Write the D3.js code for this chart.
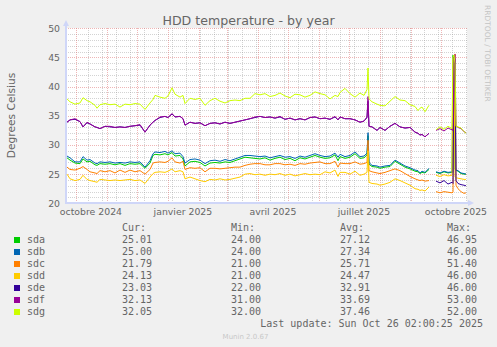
<!DOCTYPE html>
<html><head><meta charset="utf-8">
<script src="https://cdn.jsdelivr.net/npm/d3@7"></script>
<style>
html,body{margin:0;padding:0;background:#f0f0f0;}
svg{display:block;}
text{font-family:"DejaVu Sans",sans-serif;fill:#666;}
text.mono{font-family:"DejaVu Sans Mono",monospace;}
</style></head><body>
<svg id="chart" width="497" height="347"></svg>
<script>
const seriesNames = ["sda","sdb","sdc","sdd","sde","sdf","sdg"];
const seriesColors = ["#00CC00","#0066B3","#FF8000","#FFCC00","#330099","#990099","#CCFF00"];
// days since 2024-09-21 02:00
const dayOffsets = [1,4,9,14,17,21,24,29,31,34,
 39,44,49,54,59,64,69,74,79,84,
 87,89,94,99,102,106,109,114,117,119,
 124,129,134,139,144,149,154,159,164,169,
 174,179,184,189,194,199,204,209,214,219,
 224,229,234,239,244,249,254,259,264,269,
 272,274,279,284,289,294,298,301,302,303,
 306,311,314,319,324,329,334,339,344,349,
 352,354,356,359,363,366,370,374,378,382,
 386,387,388,389,390,392,395,398,400];
const sda = [27.8,27.4,26.9,26.8,27.6,27.1,27.2,26.6,26.5,26.8,
 26.7,26.8,26.6,26.8,26.5,26.8,26.7,26.8,26.0,26.9,
 28.2,28.4,28.3,28.5,28.3,28.7,28.1,28.2,27.6,26.4,
 27.1,27.2,27.0,26.4,26.9,27.0,26.9,27.1,27.0,27.3,
 27.6,27.9,27.8,27.7,27.6,27.8,27.4,27.7,27.9,27.5,
 27.7,27.3,27.8,27.6,27.9,28.2,27.9,27.7,27.8,28.3,
 27.3,28.0,27.7,27.9,28.5,27.7,27.8,28.3,31.6,26.7,
 26.3,26.2,26.0,26.2,26.3,27.2,26.7,26.2,25.9,25.5,
 25.4,25.1,25.3,25.2,25.8,null,25.3,25.1,25.4,25.2,
 25.3,45.4,44.2,25.8,25.7,25.5,25.1,25.0,25.0];
const sdb = [28.1,27.8,27.1,27.1,28.0,27.4,27.5,26.9,26.8,27.1,
 27.0,27.1,26.9,27.0,26.9,27.1,27.0,27.1,26.2,27.3,
 28.5,28.8,28.7,28.9,28.6,29.0,28.5,28.6,28.0,26.9,
 27.5,27.6,27.4,26.8,27.3,27.4,27.2,27.5,27.3,27.6,
 27.9,28.2,28.2,28.1,28.0,28.1,27.8,28.0,28.2,27.9,
 28.0,27.7,28.1,27.9,28.2,28.5,28.2,28.0,28.1,28.6,
 27.9,28.4,28.0,28.2,28.8,28.0,28.1,28.6,32.1,27.0,
 26.5,26.4,26.2,26.4,26.5,27.4,26.9,26.4,26.1,25.7,
 25.6,25.2,25.5,25.3,26.0,null,25.4,25.2,25.5,25.3,
 25.4,25.3,45.0,44.0,25.7,25.6,25.2,25.1,25.0];
const sdc = [26.2,25.8,25.7,26.0,26.3,25.8,25.4,25.2,25.1,25.6,
 25.4,25.6,25.2,25.7,25.3,25.7,25.4,25.6,25.0,25.8,
 26.9,27.0,27.1,27.0,27.2,27.8,27.1,26.9,27.2,25.8,
 26.1,26.0,26.1,25.4,26.0,26.0,25.9,26.0,26.1,26.2,
 26.2,26.5,26.7,26.8,26.8,26.6,26.6,26.8,26.8,26.6,
 26.7,26.5,26.8,26.7,26.9,27.0,27.1,26.8,26.8,27.2,
 26.2,26.9,26.8,26.8,27.1,26.7,26.8,27.0,30.8,25.6,
 25.4,25.2,25.1,25.3,25.6,25.9,25.6,25.1,24.6,24.2,
 24.0,23.9,24.0,23.8,23.9,null,22.0,21.8,22.0,21.9,
 21.8,21.9,44.0,45.6,23.1,22.5,22.0,21.7,21.8];
const sdd = [25.0,24.2,23.9,24.1,24.8,24.1,23.9,23.7,23.6,24.1,
 24.0,23.9,24.0,23.9,24.0,24.1,23.9,24.0,23.4,24.5,
 25.1,25.3,25.4,25.3,25.5,25.9,25.4,25.6,25.4,24.2,
 24.5,24.2,23.9,23.7,24.1,24.0,24.2,24.0,24.1,24.3,
 24.5,25.0,25.1,24.9,25.0,24.8,25.0,24.9,25.1,24.8,
 25.0,24.7,24.9,25.1,24.9,25.0,24.9,25.4,25.2,25.7,
 24.6,25.3,25.3,25.0,25.5,24.8,25.0,25.3,29.0,23.6,
 23.4,23.3,23.1,23.3,23.6,24.2,23.9,23.5,23.1,22.5,
 22.4,22.2,22.3,22.1,22.8,null,24.8,24.6,24.9,24.7,
 24.8,44.5,45.0,24.5,24.4,24.3,24.2,24.1,24.1];
const sde = [33.9,34.3,34.4,34.0,33.1,33.8,33.6,33.1,33.0,32.8,
 33.2,33.1,33.0,33.1,33.0,33.2,33.3,33.4,32.2,33.4,
 33.9,34.2,34.7,34.9,34.7,35.3,34.8,34.9,34.5,33.4,
 33.9,33.7,33.8,33.3,33.7,33.8,33.6,33.9,33.7,33.9,
 34.1,34.3,34.5,34.7,34.9,34.7,34.8,34.6,34.8,34.4,
 34.6,34.3,34.5,34.3,34.7,34.8,34.5,34.6,34.4,34.8,
 34.3,34.8,34.5,34.5,34.3,33.9,34.1,34.7,37.5,33.2,
 33.1,32.5,33.0,32.5,33.2,33.7,33.1,32.9,33.0,32.2,
 32.0,31.7,31.8,31.4,32.0,null,23.8,23.5,23.9,23.3,
 23.6,23.4,45.2,44.6,23.9,23.4,23.2,23.1,23.0];
const sdf = [33.9,34.3,34.5,34.0,33.1,33.9,33.6,33.1,33.0,32.8,
 33.2,33.2,33.0,33.1,33.0,33.2,33.3,33.5,32.2,33.4,
 33.9,34.2,34.8,34.9,34.7,35.4,34.8,34.9,34.5,33.4,
 33.9,33.7,33.8,33.3,33.7,33.8,33.6,33.9,33.7,33.9,
 34.1,34.3,34.5,34.8,34.9,34.7,34.8,34.6,34.9,34.4,
 34.6,34.3,34.5,34.3,34.7,34.8,34.5,34.6,34.4,34.9,
 34.3,34.8,34.5,34.5,34.3,33.9,34.1,34.8,38.3,33.2,
 33.1,32.5,33.0,32.5,33.2,33.7,33.1,32.9,33.0,32.2,
 32.0,31.7,31.8,31.4,32.0,null,32.5,32.8,32.4,32.9,
 32.6,32.5,44.8,45.5,33.3,33.0,32.8,32.3,32.1];
const sdg = [37.9,37.4,37.0,37.2,38.1,37.6,37.4,36.8,36.3,36.9,
 37.1,36.9,37.0,36.5,37.0,36.9,37.1,37.0,36.1,37.2,
 37.8,38.5,38.2,38.0,38.4,39.8,38.7,38.2,38.5,37.1,
 38.0,37.8,38.0,36.8,37.6,38.0,37.5,37.2,37.6,37.7,
 37.6,38.0,38.0,38.8,38.6,38.8,38.3,38.5,38.9,38.4,
 38.1,38.7,38.6,38.2,38.5,39.1,38.8,38.6,37.9,38.5,
 38.3,39.0,39.7,38.8,38.2,38.9,38.5,39.5,43.2,37.9,
 37.4,37.0,36.8,36.7,37.5,38.3,37.7,37.6,36.9,36.6,
 35.9,36.3,36.5,35.7,36.8,null,32.6,33.1,32.7,33.2,
 32.8,45.0,45.4,44.0,33.2,33.1,32.9,32.3,32.0];
const curValues = ["25.01","25.00","21.79","24.13","23.03","32.13","32.05"];
const minValues = ["24.00","24.00","21.00","21.00","22.00","31.00","32.00"];
const avgValues = ["27.12","27.34","25.71","24.47","32.91","33.69","37.46"];
const maxValues = ["46.95","46.00","51.40","46.00","46.00","53.00","52.00"];
const xTickDates = ["2024-10-01","2025-01-01","2025-04-01","2025-07-01","2025-10-01"];
const xTickLabels = ["octobre 2024","janvier 2025","avril 2025","juillet 2025","octobre 2025"];
const yTicks = [20,25,30,35,40,45,50];
const titleText = "HDD temperature - by year";
const yAxisTitle = "Degrees Celsius";
const lastUpdate = "Last update: Sun Oct 26 02:00:25 2025";

const seriesValues = [sda,sdb,sdc,sdd,sde,sdf,sdg];

const svg = d3.select("#chart");
const start = new Date(2024,8,21,2,0,0);
const end = new Date(2025,9,26,2,0,0);
const x = d3.scaleTime().domain([start,end]).range([66,466]);
const y = d3.scaleLinear().domain([20,50]).range([203.3,28.3]);
const L = 66, R = 467, T = 28, B = 203;

svg.append("rect").attr("width",497).attr("height",347).attr("fill","#f0f0f0");
svg.append("rect").attr("x",L).attr("y",T).attr("width",R-L).attr("height",B-T+1).attr("fill","#fff");

const grid = svg.append("g").attr("shape-rendering","crispEdges");
const minorCol = "rgba(150,150,150,0.42)", majorCol = "rgba(222,110,110,0.5)";
d3.range(21,50).filter(v=>v%5!==0).forEach(v=>{
  const yy = Math.round(y(v))+0.5;
  grid.append("line").attr("x1",L).attr("x2",R).attr("y1",yy).attr("y2",yy)
    .attr("stroke",minorCol).attr("stroke-dasharray","1,1");
});
d3.timeDay.range(new Date(2024,9,13), end, 14).forEach(d=>{
  const xx = Math.round(x(d))+0.5;
  grid.append("line").attr("x1",xx).attr("x2",xx).attr("y1",T).attr("y2",B)
    .attr("stroke",minorCol).attr("stroke-dasharray","1,1");
});
yTicks.forEach(v=>{
  const yy = Math.round(y(v))+0.5;
  grid.append("line").attr("x1",L).attr("x2",R).attr("y1",yy).attr("y2",yy)
    .attr("stroke",majorCol).attr("stroke-dasharray","1,1");
});
d3.timeMonth.range(start,end).forEach(d=>{
  const xx = Math.round(x(d))+0.5;
  grid.append("line").attr("x1",xx).attr("x2",xx).attr("y1",T).attr("y2",B)
    .attr("stroke",majorCol).attr("stroke-dasharray","1,1");
});

const axisCol = "#CFD6F8";
svg.append("line").attr("x1",L).attr("x2",L).attr("y1",B+1).attr("y2",24).attr("stroke",axisCol).attr("stroke-width",2);
svg.append("path").attr("d",`M${L-3},26 L${L+3},26 L${L},20 Z`).attr("fill",axisCol);
svg.append("line").attr("x1",L-1).attr("x2",470).attr("y1",B).attr("y2",B).attr("stroke",axisCol).attr("stroke-width",2);
svg.append("path").attr("d",`M468,${B-3} L468,${B+3} L474,${B} Z`).attr("fill",axisCol);

svg.append("g").selectAll("text").data(yTicks).join("text")
  .attr("x",60).attr("y",v=>y(v)+3.4).attr("text-anchor","end")
  .attr("font-size","9.33px").text(v=>v);

svg.append("g").selectAll("text").data(xTickDates).join("text")
  .attr("x",(d)=>x(d3.timeDay.offset(new Date(d+"T00:00:00"),15)))
  .attr("y",215).attr("text-anchor","middle").attr("font-size","9.33px")
  .text((d,i)=>xTickLabels[i]);

const line = d3.line().defined(d=>d.v!=null).x(d=>x(d.t)).y(d=>y(d.v));
seriesValues.forEach((vals,i)=>{
  const pts = dayOffsets.map((o,j)=>({t:new Date(start.getTime()+o*86400000), v:vals[j]}));
  svg.append("path").datum(pts).attr("d",line).attr("fill","none")
    .attr("stroke",seriesColors[i]).attr("stroke-width",1);
});

svg.append("text").attr("x",248.5).attr("y",24.5).attr("text-anchor","middle")
  .attr("font-size","12.6px").text(titleText);
svg.append("text").attr("transform","translate(15,115.5) rotate(-90)").attr("text-anchor","middle")
  .attr("font-size","10.67px").text(yAxisTitle);
svg.append("text").attr("transform","translate(485,5) rotate(90)")
  .attr("font-size","7.5px").style("fill","#c4c4c4").text("RRDTOOL / TOBI OETIKER");
svg.append("text").attr("x",245.5).attr("y",339).attr("text-anchor","middle")
  .attr("font-size","7px").style("fill","#c8c8c8").text("Munin 2.0.67");

const cols = [122,231,340,447];
["Cur:","Min:","Avg:","Max:"].forEach((h,i)=>{
  svg.append("text").attr("class","mono").attr("x",cols[i]).attr("y",231).attr("font-size","10px").text(h);
});
const leg = svg.append("g");
seriesNames.forEach((n,i)=>{
  const by = 243 + 12*i;
  leg.append("rect").attr("x",14).attr("y",by-6).attr("width",6).attr("height",6).attr("fill",seriesColors[i]);
  leg.append("text").attr("class","mono").attr("x",27).attr("y",by).attr("font-size","10px").text(n);
  [curValues,minValues,avgValues,maxValues].forEach((arr,k)=>{
    leg.append("text").attr("class","mono").attr("x",cols[k]).attr("y",by).attr("font-size","10px").text(arr[i]);
  });
});
svg.append("text").attr("class","mono").attr("x",483).attr("y",327).attr("text-anchor","end")
  .attr("font-size","10px").text(lastUpdate);
</script>
</body></html>
